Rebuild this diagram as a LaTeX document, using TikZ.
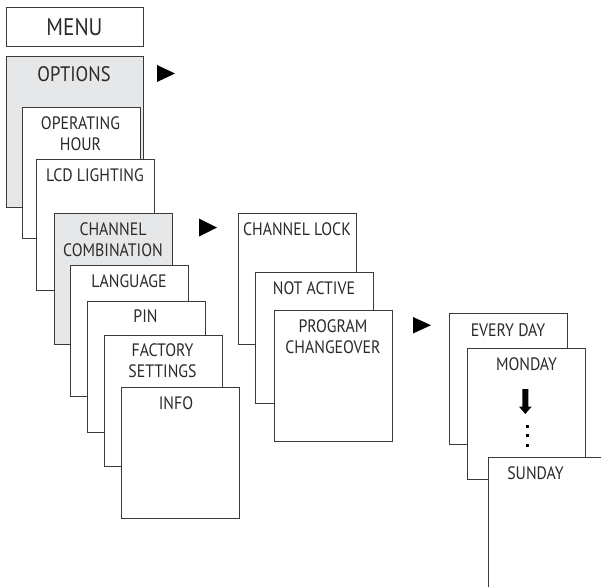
\documentclass[tikz,border=0pt]{standalone}
\usepackage{fontspec}
\setmainfont{PT Sans}[FakeStretch=0.88]
\definecolor{lightgraybox}{HTML}{E6E7E9}
\definecolor{linecol}{HTML}{3A3A3A}
\definecolor{txtcol}{HTML}{2A2A2A}
\begin{document}
\begin{tikzpicture}[x=1pt,y=-1pt,
  box/.style={draw=linecol,line width=1.1pt,fill=white,anchor=north west,inner sep=0pt,minimum width=117.5pt,minimum height=131pt},
  graybox/.style={box,fill=lightgraybox},
  lbl/.style={anchor=base,inner sep=0pt,text=txtcol,font=\fontsize{18}{21}\selectfont},
  big/.style={lbl,font=\fontsize{24}{28}\selectfont},
  tri/.style={fill=black}]
\clip (0,0) rectangle (601,586);
% left column
\node[box,minimum width=137pt,minimum height=39pt] (menu) at (6,7) {};
\node[big] (menuT) at (74.5,35) {MENU};
\node[graybox,minimum width=137pt,minimum height=151pt] (opt) at (6,56) {};
\node[big,font=\fontsize{21}{25}\selectfont] (optT) at (74,81) {OPTIONS};
\node[box] (oph) at (22,107) {};
\node[lbl] (ophT) at (80.5,129) {\begin{tabular}[t]{@{}c@{}}OPERATING\\HOUR\end{tabular}};
\node[box] (lcd) at (36,159) {};
\node[lbl] (lcdT) at (95,181) {LCD LIGHTING};
\node[graybox] (chc) at (54,213) {};
\node[lbl] (chcT) at (113,235) {\begin{tabular}[t]{@{}c@{}}CHANNEL\\COMBINATION\end{tabular}};
\node[box] (lang) at (70,265) {};
\node[lbl] (langT) at (129,287) {LANGUAGE};
\node[box] (pin) at (87,301) {};
\node[lbl] (pinT) at (145.5,322) {PIN};
\node[box] (fac) at (104,335) {};
\node[lbl] (facT) at (162.5,356) {\begin{tabular}[t]{@{}c@{}}FACTORY\\SETTINGS\end{tabular}};
\node[box] (info) at (121,387) {};
\node[lbl] (infoT) at (176,409) {INFO};
% middle column
\node[box] (clock) at (238,213) {};
\node[lbl] (clockT) at (297,235) {CHANNEL LOCK};
\node[box] (nact) at (255,272) {};
\node[lbl] (nactT) at (314,294) {NOT ACTIVE};
\node[box] (prog) at (274,310) {};
\node[lbl] (progT) at (333,332) {\begin{tabular}[t]{@{}c@{}}PROGRAM\\CHANGEOVER\end{tabular}};
% right column
\node[box] (every) at (449,313) {};
\node[lbl] (everyT) at (508,336) {EVERY DAY};
\node[box] (mon) at (467,348) {};
\node[lbl] (monT) at (526.5,370) {MONDAY};
\node[box] (sun) at (488,457) {};
\node[lbl] (sunT) at (535.5,479) {SUNDAY};
% triangles
\fill[tri] (157,65) -- (157,82) -- (175,73.5) -- cycle;
\fill[tri] (199,218.5) -- (199,236.5) -- (217,227.5) -- cycle;
\fill[tri] (413,317) -- (413,333.5) -- (431,325.2) -- cycle;
% down arrow and dots
\fill[black] (522.3,389) -- (528.3,389) -- (528.3,406.5) -- (531.7,406.5) -- (525.3,414) -- (518.9,406.5) -- (522.3,406.5) -- cycle;
\fill[black] (525.8,424.8) rectangle (528.8,427.6);
\fill[black] (525.8,434.4) rectangle (528.8,437.2);
\fill[black] (525.8,444) rectangle (528.8,446.8);
\end{tikzpicture}
\end{document}
